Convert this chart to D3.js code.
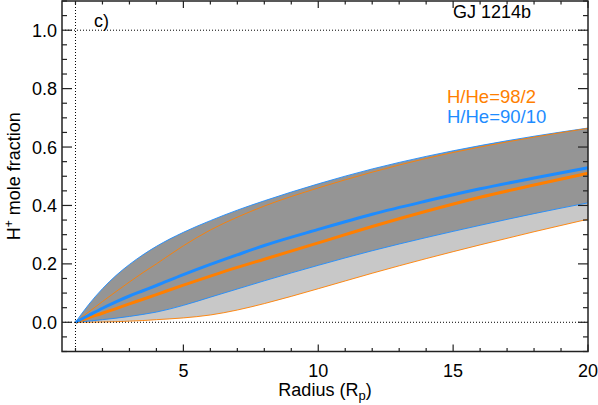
<!DOCTYPE html>
<html>
<head>
<meta charset="utf-8">
<script src="https://cdn.jsdelivr.net/npm/d3@7"></script>
<style>
  body { margin: 0; background: #fff; }
  text { font-family: "Liberation Sans", Arial, sans-serif; }
</style>
</head>
<body>
<svg id="chart" width="598" height="405"></svg>
<script>
// radius grid (planet radii) and H+ mole fraction for each model
var radius      = [1, 1.5, 2, 2.5, 3, 3.5, 4, 5, 6, 7, 8, 10, 12, 14, 16, 18, 20];
var blueUpper   = [0, 0.062, 0.115, 0.160, 0.198, 0.231, 0.260, 0.308, 0.348, 0.384, 0.416, 0.474, 0.525, 0.568, 0.605, 0.637, 0.665];
var blueMid     = [0, 0.024, 0.048, 0.070, 0.090, 0.108, 0.126, 0.163, 0.198, 0.231, 0.263, 0.318, 0.370, 0.415, 0.457, 0.494, 0.529];
var blueLower   = [0, 0.004, 0.009, 0.014, 0.020, 0.027, 0.035, 0.058, 0.086, 0.114, 0.142, 0.195, 0.245, 0.290, 0.332, 0.372, 0.409];
var orangeUpper = [0, 0.036, 0.071, 0.105, 0.138, 0.170, 0.200, 0.262, 0.316, 0.360, 0.398, 0.460, 0.514, 0.561, 0.600, 0.634, 0.664];
var orangeMid   = [0, 0.016, 0.031, 0.047, 0.063, 0.079, 0.095, 0.127, 0.158, 0.188, 0.216, 0.272, 0.328, 0.380, 0.428, 0.470, 0.510];
var orangeLower = [0, 0.0003, 0.001, 0.002, 0.004, 0.006, 0.009, 0.015, 0.025, 0.042, 0.064, 0.115, 0.168, 0.218, 0.265, 0.310, 0.353];

var xMajor = [5, 10, 15, 20];
var yMajor = [0.0, 0.2, 0.4, 0.6, 0.8, 1.0];
var legendLabels = ["H/He=98/2", "H/He=90/10"];

var orange = "#ff7f00";
var blue = "#1e8cff";
var pLeft = 62, pRight = 588, pTop = 1, pBottom = 351.5;

var svg = d3.select("#chart");
var x = d3.scaleLinear().domain([0.5, 20]).range([pLeft, pRight]);
var y = d3.scaleLinear().domain([-0.1, 1.1]).range([pBottom, pTop]);

function pts(vals) { return radius.map(function(r, i) { return [r, vals[i]]; }); }

var area = d3.area().curve(d3.curveMonotoneX)
  .x(function(d) { return x(d[0]); })
  .y0(function(d) { return y(d[1]); })
  .y1(function(d) { return y(d[2]); });
var line = d3.line().curve(d3.curveMonotoneX)
  .x(function(d) { return x(d[0]); })
  .y(function(d) { return y(d[1]); });

// bands: orange (light) under, blue (dark) over
svg.append("path")
  .attr("d", area(radius.map(function(r, i) { return [r, orangeLower[i], orangeUpper[i]]; })))
  .attr("fill", "#c8c8c8");
svg.append("path")
  .attr("d", area(radius.map(function(r, i) { return [r, blueLower[i], blueUpper[i]]; })))
  .attr("fill", "#959595");

// edge lines
[[orangeLower, orange], [blueLower, blue], [blueUpper, blue], [orangeUpper, orange]].forEach(function(s) {
  svg.append("path").attr("d", line(pts(s[0])))
    .attr("fill", "none").attr("stroke", s[1]).attr("stroke-width", 0.9);
});
// central lines
[[orangeMid, orange], [blueMid, blue]].forEach(function(s) {
  svg.append("path").attr("d", line(pts(s[0])))
    .attr("fill", "none").attr("stroke", s[1]).attr("stroke-width", 3);
});

// dotted reference lines
[0, 1].forEach(function(v) {
  svg.append("line").attr("x1", pLeft).attr("x2", pRight).attr("y1", y(v)).attr("y2", y(v))
    .attr("stroke", "#000").attr("stroke-width", 1).attr("stroke-dasharray", "1,2");
});
svg.append("line").attr("x1", x(1)).attr("x2", x(1)).attr("y1", pTop).attr("y2", pBottom)
  .attr("stroke", "#000").attr("stroke-width", 1).attr("stroke-dasharray", "1,2");

// axes with ticks on all four sides
var axisColor = "#222";
var gx = svg.append("g").attr("stroke", axisColor).attr("stroke-width", 1.2);
d3.range(1, 21).forEach(function(v) {
  var len = (v % 5 == 0) ? 7 : 3.5;
  gx.append("line").attr("x1", x(v)).attr("x2", x(v)).attr("y1", pBottom).attr("y2", pBottom - len);
  gx.append("line").attr("x1", x(v)).attr("x2", x(v)).attr("y1", pTop).attr("y2", pTop + len);
});
d3.range(-2, 23).forEach(function(k) {
  var v = k * 0.05;
  var len = (k % 4 == 0) ? 10 : 5;
  gx.append("line").attr("x1", pLeft).attr("x2", pLeft + len).attr("y1", y(v)).attr("y2", y(v));
  gx.append("line").attr("x1", pRight).attr("x2", pRight - len).attr("y1", y(v)).attr("y2", y(v));
});
svg.append("rect").attr("x", pLeft).attr("y", pTop).attr("width", pRight - pLeft).attr("height", pBottom - pTop)
  .attr("fill", "none").attr("stroke", axisColor).attr("stroke-width", 1.5);

// tick labels
svg.selectAll(".xl").data(xMajor).enter().append("text")
  .attr("x", function(d) { return x(d); }).attr("y", 377)
  .attr("text-anchor", "middle").attr("font-size", 18).text(function(d) { return d; });
svg.selectAll(".yl").data(yMajor).enter().append("text")
  .attr("x", 57).attr("y", function(d) { return y(d) + 6.5; })
  .attr("text-anchor", "end").attr("font-size", 18).text(function(d) { return d.toFixed(1); });

// axis titles
var xt = svg.append("text").attr("x", (pLeft + pRight) / 2).attr("y", 395.5)
  .attr("text-anchor", "middle").attr("font-size", 18);
xt.append("tspan").text("Radius (R");
xt.append("tspan").attr("font-size", 13).attr("dy", 4).text("p");
xt.append("tspan").attr("dy", -4).text(")");

var yt = svg.append("text").attr("transform", "translate(19.5," + ((pTop + pBottom) / 2) + ") rotate(-90)")
  .attr("text-anchor", "middle").attr("font-size", 18);
yt.append("tspan").text("H");
yt.append("tspan").attr("font-size", 12).attr("dy", -7).text("+");
yt.append("tspan").attr("dy", 7).text(" mole fraction");

// panel labels
svg.append("text").attr("x", 94).attr("y", 27).attr("font-size", 18).text("c)");
svg.append("text").attr("x", 492).attr("y", 17.5).attr("text-anchor", "middle").attr("font-size", 18).text("GJ 1214b");

// legend
svg.selectAll(".leg").data(legendLabels).enter().append("text")
  .attr("x", 447).attr("y", function(d, i) { return 102.7 + i * 20; })
  .attr("font-size", 18.5)
  .attr("fill", function(d, i) { return i == 0 ? orange : blue; })
  .text(function(d) { return d; });
</script>
</body>
</html>
